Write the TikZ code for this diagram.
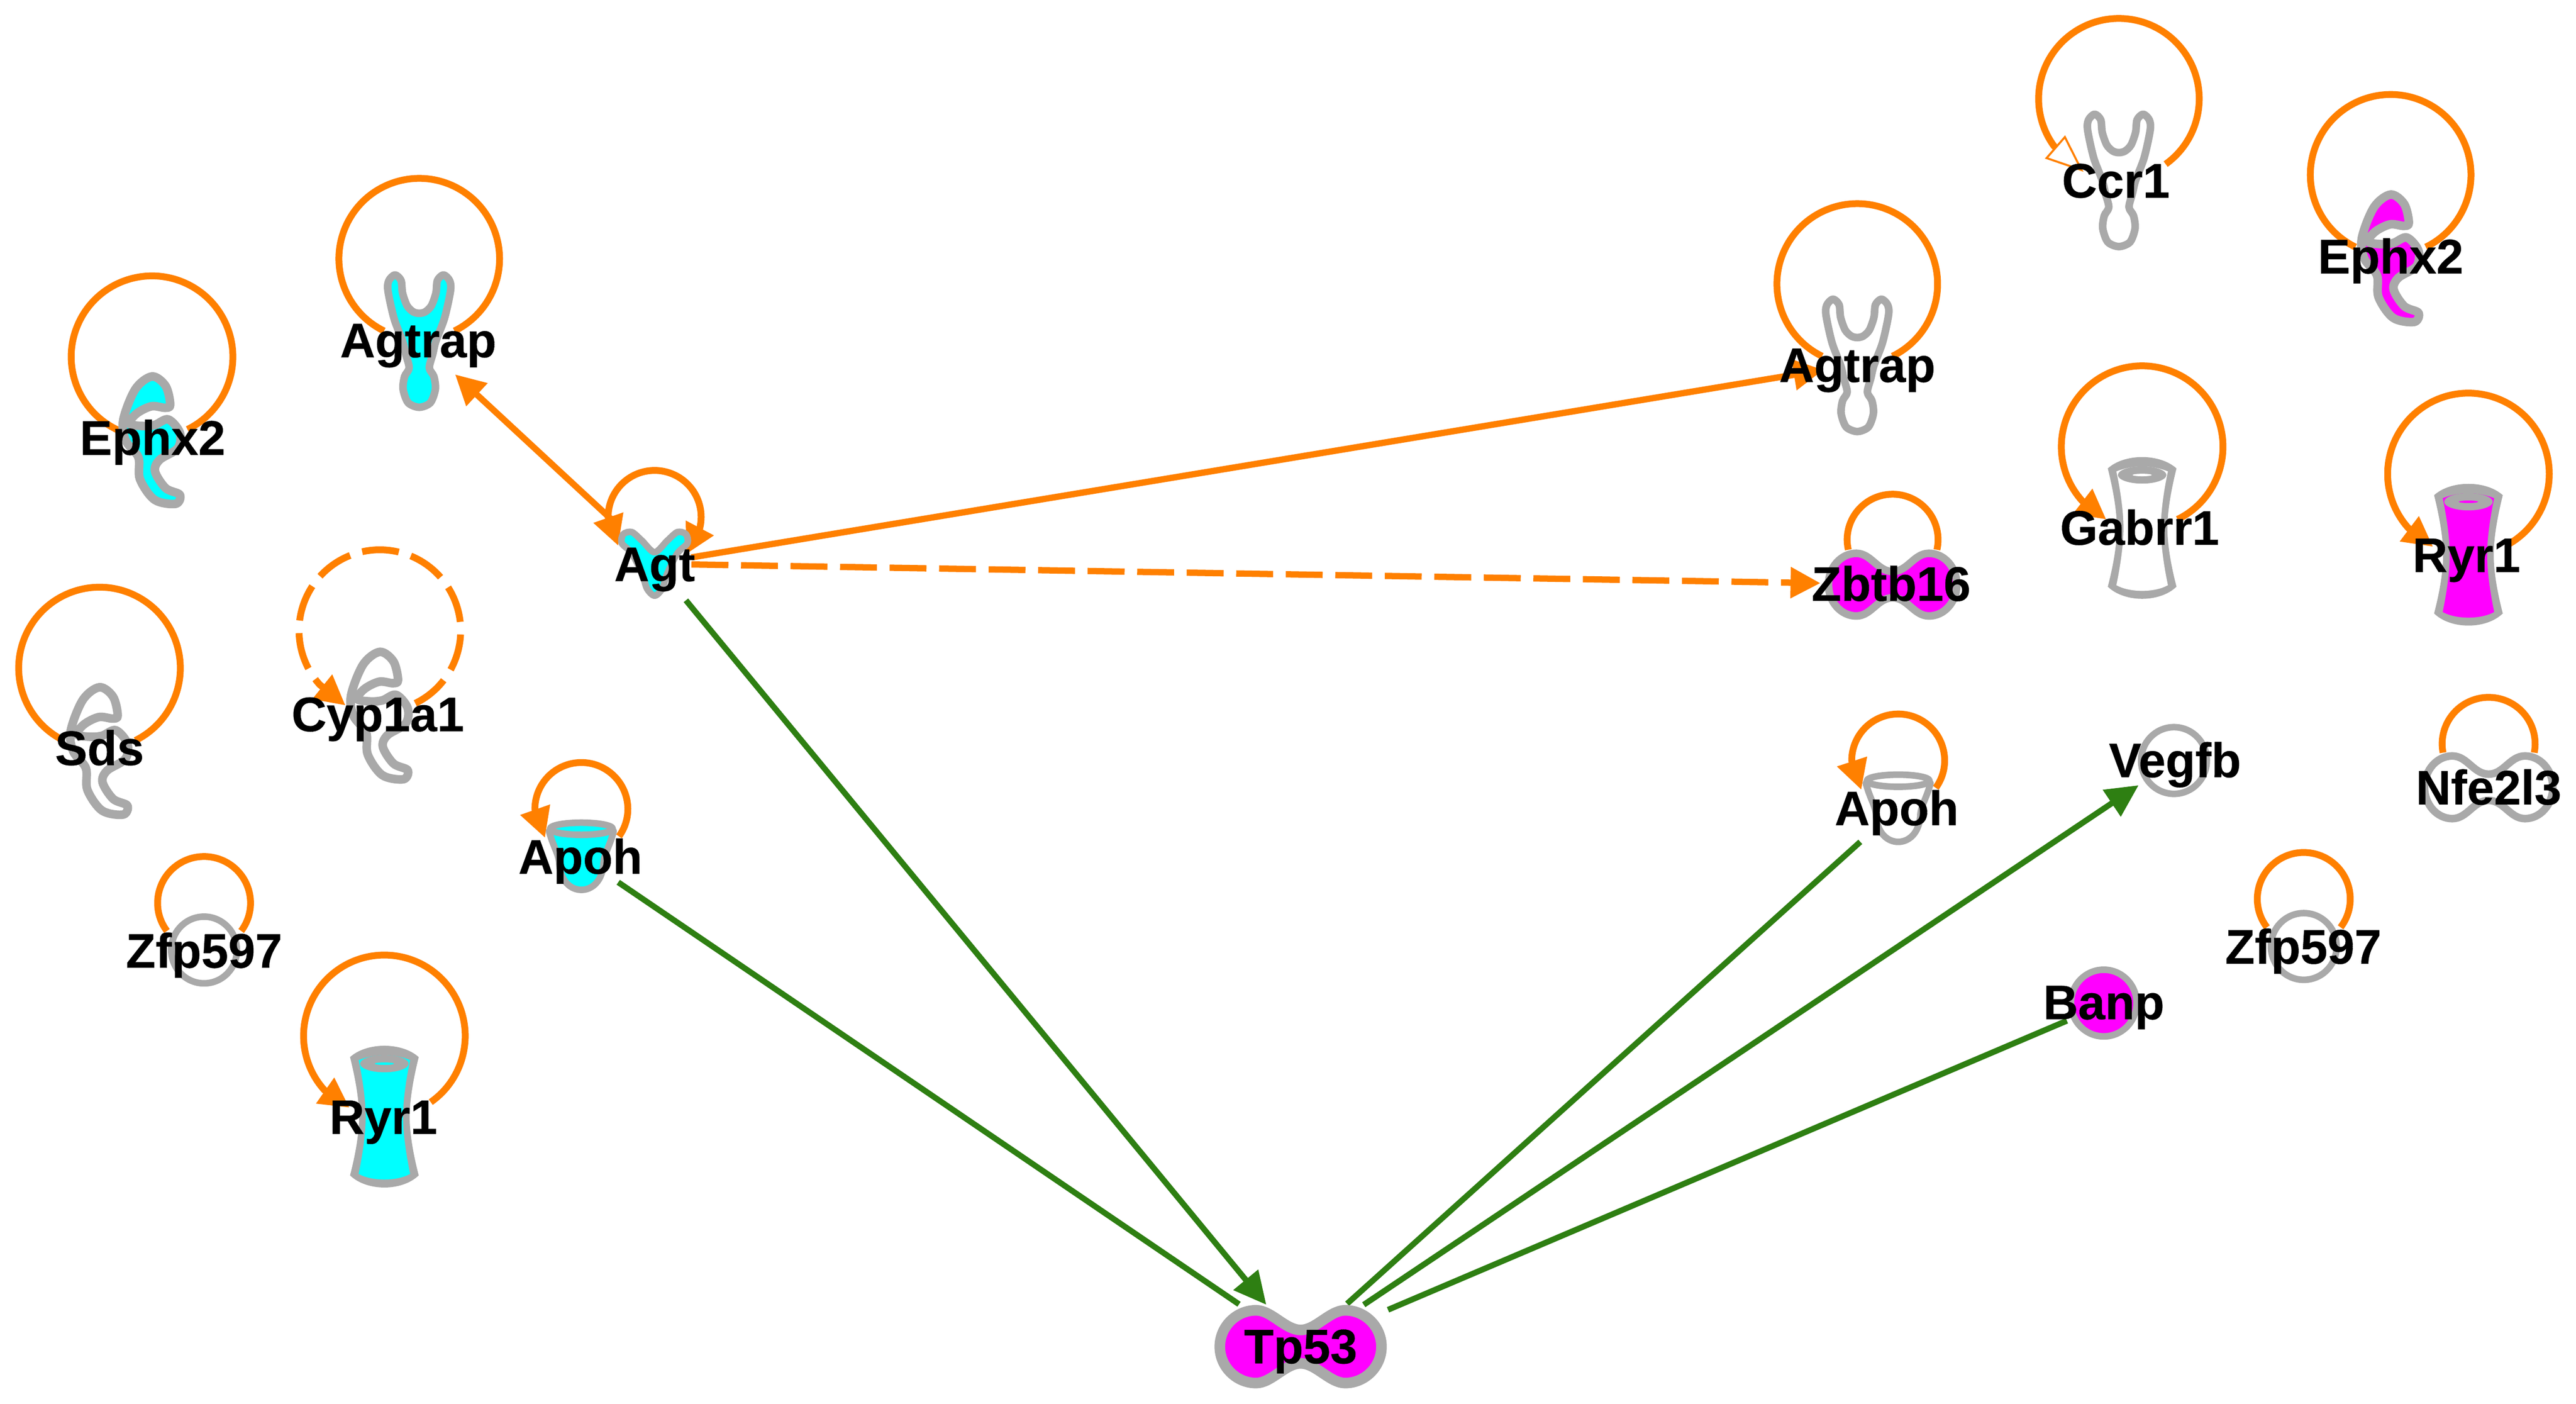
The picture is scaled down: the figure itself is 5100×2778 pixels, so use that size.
\documentclass[tikz,border=0pt]{standalone}
\usepackage{fontspec}
\setmainfont{Liberation Sans}
\usetikzlibrary{arrows.meta,calc}
\pgfdeclarelayer{linklayer}
\pgfsetlayers{linklayer,main}
\definecolor{linkorange}{HTML}{FF8000}
\definecolor{linkgreen}{HTML}{2E7F12}
\definecolor{glyphgray}{HTML}{A9A9A9}
\definecolor{upcyan}{HTML}{00FFFF}
\definecolor{upmag}{HTML}{FF00FF}
\tikzset{
  genetext/.style={anchor=base,inner sep=0pt,outer sep=0pt,text=black,font=\fontsize{27.3}{30}\selectfont\bfseries\addfontfeature{FakeBold=0.4}},
  genespot/.style={inner sep=0pt,outer sep=0pt,minimum size=1pt},
  glyphline/.style={draw=glyphgray,line join=round,line width=#1},
  glyphline/.default=0.15cm,
  orangelink/.style={draw=linkorange,line width=0.125cm},
  greenlink/.style={draw=linkgreen,line width=0.115cm},
  looplink/.style={draw=linkorange,line width=0.135cm},
  dashedlink/.style={dash pattern=on 0.73cm off 0.25cm},
  headend/.style={-{Triangle[length=0.59cm,width=0.59cm]}},
  headboth/.style={{Triangle[length=0.59cm,width=0.59cm]}-{Triangle[length=0.59cm,width=0.59cm]}},
  headgreen/.style={-{Triangle[length=0.64cm,width=0.61cm]}},
  headopen/.style={-{Triangle[length=0.75cm,width=0.6cm,fill=white,line width=0.04cm]}},
}
% ---- glyphs, in px round the centre, y downwards
\newcommand\gEnzyme[1]{\draw[glyphline=0.17cm,fill=#1] plot[smooth cycle,tension=0.55] coordinates {
 (0,-125)(27,-106)(36,-69)(26,-63)(-1,-66)(-30,-52)(-45,-32)(-20,-27)(5,-29)(32,-40)(55,-14)(51,17)(15,40)(6,63)(27,96)(55,109)(47,127)(5,119)(-24,78)(-27,35)(-52,2)(-57,-39)(-33,-100)};}
\newcommand\gRecep[1]{\draw[glyphline=0.15cm,fill=#1] plot[smooth cycle,tension=0.5] coordinates {
 (0,131)(-22,122)(-32,95)(-29,70)(-20,53)(-27,25)(-33,0)(-50,-45)(-62,-100)(-60,-120)(-48,-131)(-36,-120)(-33,-95)(-24,-70)(-12,-58)(0,-55)(12,-58)(24,-70)(33,-95)(36,-120)(48,-131)(60,-120)(62,-100)(50,-45)(33,0)(27,25)(20,53)(29,70)(32,95)(22,122)};}
\newcommand\gLig[1]{\draw[glyphline=0.13cm,fill=#1] plot[smooth cycle,tension=0.5] coordinates {
 (0,64)(-15,50)(-25,20)(-45,-20)(-65,-40)(-62,-58)(-45,-62)(-25,-45)(0,-22)(25,-45)(45,-62)(62,-58)(65,-40)(45,-20)(25,20)(15,50)};}
\newcommand\gChan[1]{%
 \fill[glyphgray] (-68,-118) .. controls (-35,-148) and (35,-148) .. (68,-118)
   .. controls (56,-70) and (50,-30) .. (50,0) .. controls (50,30) and (56,70) .. (68,116)
   .. controls (35,148) and (-35,148) .. (-68,116)
   .. controls (-56,70) and (-50,30) .. (-50,0) .. controls (-50,-30) and (-56,-70) .. (-68,-118) -- cycle;
 \fill[#1] (-51,-112) .. controls (-20,-125) and (20,-125) .. (51,-112)
   .. controls (42,-70) and (37,-30) .. (37,0) .. controls (37,30) and (42,70) .. (51,113)
   .. controls (25,128) and (-25,128) .. (-51,113)
   .. controls (-42,70) and (-37,30) .. (-37,0) .. controls (-37,-30) and (-42,-70) .. (-51,-112) -- cycle;
 \fill[glyphgray] (0,-105) ellipse [x radius=48,y radius=17];
 \fill[#1] (0,-105) ellipse [x radius=19,y radius=2.5];}
\newcommand\gCup[1]{%
 \draw[glyphline=0.13cm,fill=#1] (-64,-50) .. controls (-56,-20) and (-45,-5) .. (-44,12)
    .. controls (-42,50) and (-20,66) .. (0,66) .. controls (20,66) and (42,50) .. (44,12)
    .. controls (45,-5) and (56,-20) .. (64,-50) -- cycle;
 \draw[glyphline=0.13cm,fill=#1] (0,-55) ellipse [x radius=62,y radius=12];}
\newcommand\gCirc[1]{\draw[glyphline=0.13cm,fill=#1] (0,0) ellipse [x radius=65,y radius=66];}
\newcommand\dumbpath[4]{(0,-#3) .. controls (-30,-#3) and (-#4+30,-#2) .. (-#4,-#2)
   .. controls ($(-#4,-#2)+(-0.55*#1+0.55*#4,0)$) and (-#1,-0.55*#2) .. (-#1,0)
   .. controls (-#1,0.55*#2) and ($(-#4,#2)+(-0.55*#1+0.55*#4,0)$) .. (-#4,#2)
   .. controls (-#4+30,#2) and (-30,#3) .. (0,#3)
   .. controls (30,#3) and (#4-30,#2) .. (#4,#2)
   .. controls ($(#4,#2)+(0.55*#1-0.55*#4,0)$) and (#1,0.55*#2) .. (#1,0)
   .. controls (#1,-0.55*#2) and ($(#4,-#2)+(0.55*#1-0.55*#4,0)$) .. (#4,-#2)
   .. controls (#4-30,-#2) and (30,-#3) .. (0,-#3) -- cycle}
\newcommand\gDumbS[1]{\draw[glyphline=0.15cm,fill=#1] \dumbpath{127}{62}{26}{72};}
\newcommand\gDumbL[1]{\draw[glyphline=0.21cm,fill=#1] \dumbpath{160}{72}{33}{88};}
% glyph macro, name, cx, cy, fill, text, label x, label baseline
\newcommand\gene[8]{%
 \begin{scope}[shift={(#3,-#4)},yscale=-1]#1{#5}\end{scope}
 \node[genespot] (#2) at (#3,-#4) {};
 \node[genetext] (#2text) at (#7,-#8) {#6};}
% node, loop centre above node, radius, start, end
\newcommand\selfloop[6][]{\draw[looplink,#1] ([shift={(0,#3)}]#2.center) ++(#5:#4*0.01cm) arc[start angle=#5,end angle=#6,radius=#4*0.01cm];}
% the same, ending in a short straight run into the tip at offset (#7,#8) of the node
\newcommand\selflooptip[8][]{\draw[looplink,#1] ([shift={(0,#3)}]#2.center) ++(#5:#4*0.01cm) arc[start angle=#5,end angle=#6,radius=#4*0.01cm] -- ([shift={(#7,#8)}]#2.center);}
\begin{document}
\begin{tikzpicture}[x=0.01cm,y=0.01cm]
\useasboundingbox (0,0) rectangle (5100,-2778);
\gene{\gEnzyme}{ephL}{301}{870}{upcyan}{Ephx2}{302}{900}
\gene{\gRecep}{agtrapL}{830}{675}{upcyan}{Agtrap}{828}{707}
\gene{\gLig}{agt}{1296}{1115}{upcyan}{Agt}{1296}{1150}
\gene{\gRecep}{agtrapR}{3677}{723}{white}{Agtrap}{3677}{756}
\gene{\gDumbS}{zbtb}{3747}{1157}{upmag}{Zbtb16}{3744}{1189}
\gene{\gRecep}{ccrone}{4195}{357}{white}{Ccr1}{4189}{391}
\gene{\gEnzyme}{ephR}{4733}{510}{upmag}{Ephx2}{4733}{541}
\gene{\gChan}{gabrr}{4241}{1045}{white}{Gabrr1}{4236}{1078}
\gene{\gChan}{ryrR}{4887}{1098}{upmag}{Ryr1}{4883}{1132}
\gene{\gEnzyme}{sds}{197}{1485}{white}{Sds}{197}{1514}
\gene{\gEnzyme}{cyp}{752}{1415}{white}{Cyp1a1}{748}{1447}
\gene{\gCirc}{zfpL}{404}{1880}{white}{Zfp597}{404}{1915}
\gene{\gChan}{ryrL}{761}{2210}{upcyan}{Ryr1}{759}{2244}
\gene{\gCup}{apohL}{1151}{1695}{upcyan}{Apoh}{1149}{1729}
\gene{\gCup}{apohR}{3758}{1600}{white}{Apoh}{3755}{1633}
\gene{\gCirc}{vegfb}{4304}{1505}{white}{Vegfb}{4306}{1538}
\gene{\gCirc}{banp}{4165}{1985}{upmag}{Banp}{4165}{2017}
\gene{\gCirc}{zfpR}{4561}{1873}{white}{Zfp597}{4560}{1907}
\gene{\gDumbS}{nfe}{4927}{1558}{white}{Nfe2l3}{4927}{1592}
\gene{\gDumbL}{tpf}{2575}{2665}{upmag}{Tp53}{2575}{2698}
\begin{pgfonlayer}{linklayer}
 % straight links
 \draw[orangelink,headend] ([shift={(-81,83)}]agt.center) -- ([shift={(71,-66)}]agtrapL.center);
 \draw[orangelink,headend] ([shift={(73,12)}]agt.center) -- ([shift={(-67,-9)}]agtrapR.center);
 \draw[orangelink,headend,dashedlink] ([shift={(73,-2)}]agt.center) -- ([shift={(-143,3)}]zbtb.center);
 \draw[greenlink,headgreen] ([shift={(62,-73)}]agt.center) -- ([shift={(-68,83)}]tpf.center);
 \draw[greenlink] ([shift={(73,-51)}]apohL.center) -- ([shift={(-122,84)}]tpf.center);
 \draw[greenlink] ([shift={(-75,-66)}]apohR.center) -- ([shift={(92,85)}]tpf.center);
 \draw[greenlink,headgreen] ([shift={(125,83)}]tpf.center) -- ([shift={(-70,-49)}]vegfb.center);
 \draw[greenlink] ([shift={(-73,-35)}]banp.center) -- ([shift={(173,73)}]tpf.center);
 % self loops
 \selfloop{ephL}{164}{160}{245}{-64}
 \selfloop{agtrapL}{163}{159}{244}{-64}
 \selfloop{agtrapR}{161}{159}{244}{-64}
 \selflooptip[headopen]{ccrone}{161.5}{159}{-54.4}{216}{-70}{17}
 \selfloop{ephR}{164}{159}{244}{-64}
 \selflooptip[headend]{gabrr}{161}{160}{-64}{222}{-71}{17}
 \selflooptip[headend]{ryrR}{160}{160}{-60}{222}{-70}{16}
 \selfloop{sds}{163}{160}{240.6}{-63.6}
 \selflooptip[headend,dashedlink]{cyp}{167}{160}{-64}{222}{-68}{19}
 \selfloop{zfpL}{93}{92}{217}{-37}
 \selflooptip[headend]{ryrL}{160}{160}{-55}{222}{-69}{18}
 \selflooptip[headend]{apohL}{94}{92}{-36}{180}{-72}{37}
 \selflooptip[headend]{apohR}{95}{92}{-36}{180}{-73}{37}
 \selfloop{zbtb}{89}{90}{192.8}{-12.8}
 \selfloop{nfe}{86}{92}{191}{-11}
 \selfloop{zfpR}{94}{92}{217.6}{-37.6}
 \draw[looplink,headboth] ([shift={(-72,35)}]agt.center) -- ([shift={(-92,92)}]agt.center)
    arc[start angle=180,end angle=-14,radius=0.92cm] -- ([shift={(62,18)}]agt.center);
\end{pgfonlayer}
\end{tikzpicture}
\end{document}
